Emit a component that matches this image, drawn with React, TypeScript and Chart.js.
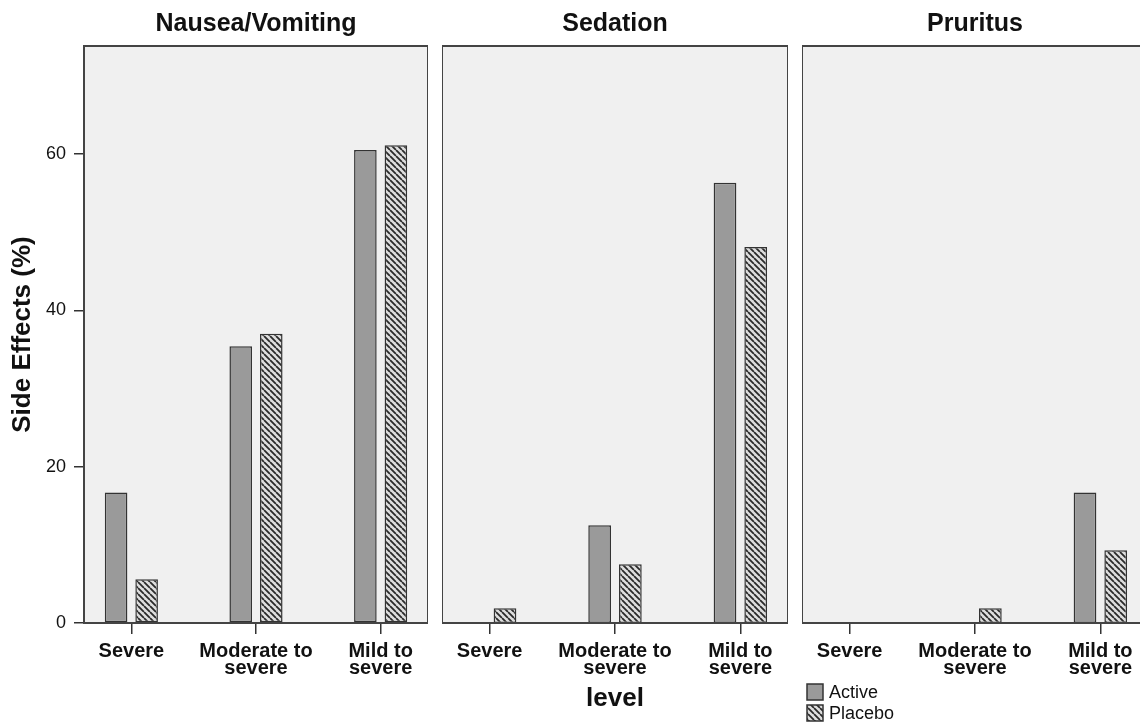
import React, { useEffect, useRef } from 'react';
import { Chart, registerables } from 'chart.js';

Chart.register(...registerables);

// ---------- data ----------
const PANEL_TITLES = ['Nausea/Vomiting', 'Sedation', 'Pruritus'];
const CATEGORY_LABELS: string[][] = [['Severe'], ['Moderate to', 'severe'], ['Mild to', 'severe']];
const SERIES_NAMES = ['Active', 'Placebo'];

const NAUSEA_ACTIVE = [16.7, 35.4, 60.5];
const NAUSEA_PLACEBO = [5.6, 37.0, 61.1];
const SEDATION_ACTIVE = [0, 12.5, 56.3];
const SEDATION_PLACEBO = [1.9, 7.5, 48.1];
const PRURITUS_ACTIVE = [0, 0, 16.7];
const PRURITUS_PLACEBO = [0, 1.9, 9.3];

const Y_TICKS = [0, 20, 40, 60];
const Y_MIN = 0;
const Y_MAX = 73.8;
const X_MIN = -0.38;
const X_MAX = 2.38;
const X_AXIS_TITLE = 'level';
const Y_AXIS_TITLE = 'Side Effects (%)';

// ---------- layout / style ----------
const W = 1140;
const H = 725;
const FONT = "'Liberation Sans', Arial, Helvetica, sans-serif";

const PANELS = [
  { title: PANEL_TITLES[0], active: NAUSEA_ACTIVE, placebo: NAUSEA_PLACEBO, left: 0, width: 428, yAxis: true, xTitle: false, legend: false },
  { title: PANEL_TITLES[1], active: SEDATION_ACTIVE, placebo: SEDATION_PLACEBO, left: 442, width: 346, yAxis: false, xTitle: true, legend: false },
  { title: PANEL_TITLES[2], active: PRURITUS_ACTIVE, placebo: PRURITUS_PLACEBO, left: 802, width: 346, yAxis: false, xTitle: false, legend: true },
];

function makeHatch(): CanvasPattern | string {
  const s = 6;
  const c = document.createElement('canvas');
  c.width = s;
  c.height = s;
  const g = c.getContext('2d');
  if (!g) return '#cccccc';
  g.fillStyle = '#dedede';
  g.fillRect(0, 0, s, s);
  g.strokeStyle = '#2a2a2a';
  g.lineWidth = 1.8;
  g.beginPath();
  for (const k of [-s, 0, s]) {
    g.moveTo(k, 0);
    g.lineTo(k + s, s);
  }
  g.stroke();
  return g.createPattern(c, 'repeat') || '#cccccc';
}

const panelPlugin = {
  id: 'panelBox',
  beforeDraw(chart: any) {
    const { ctx, chartArea } = chart;
    const { left, top, right, bottom } = chartArea;
    ctx.save();
    ctx.fillStyle = '#f0f0f0';
    ctx.fillRect(left, top, right - left, bottom - top);
    ctx.restore();
  },
  afterDatasetsDraw(chart: any) {
    const { ctx, chartArea } = chart;
    const { left, top, right, bottom } = chartArea;
    ctx.save();
    ctx.strokeStyle = '#444444';
    ctx.lineWidth = 2;
    ctx.strokeRect(left, top, right - left, bottom - top);
    ctx.restore();
  },
};

const sideLegendPlugin = {
  id: 'sideLegend',
  afterDraw(chart: any, _args: any, opts: any) {
    if (!opts || !opts.display) return;
    const { ctx } = chart;
    ctx.save();
    ctx.font = `18px ${FONT}`;
    ctx.textBaseline = 'middle';
    ctx.textAlign = 'left';
    chart.data.datasets.forEach((ds: any, i: number) => {
      const y = opts.y + i * opts.gap;
      ctx.fillStyle = ds.backgroundColor;
      ctx.fillRect(opts.x, y, opts.box, opts.box);
      ctx.strokeStyle = ds.borderColor;
      ctx.lineWidth = 1.5;
      ctx.strokeRect(opts.x, y, opts.box, opts.box);
      ctx.fillStyle = '#111111';
      ctx.fillText(ds.label, opts.x + opts.box + 6, y + opts.box / 2 + 1);
    });
    ctx.restore();
  },
};

type PanelCfg = (typeof PANELS)[number];

function Panel({ cfg }: { cfg: PanelCfg }) {
  const ref = useRef<HTMLCanvasElement>(null);
  useEffect(() => {
    if (!ref.current) return;
    const hatch = makeHatch();
    const chart = new Chart(ref.current, {
      type: 'bar',
      data: {
        datasets: [
          {
            label: SERIES_NAMES[0],
            data: cfg.active.map((y, i) => ({ x: i, y })),
            backgroundColor: '#9a9a9a',
            borderColor: '#333333',
            borderWidth: 1.5,
            borderSkipped: false,
            categoryPercentage: 0.49,
            barPercentage: 0.74,
          },
          {
            label: SERIES_NAMES[1],
            data: cfg.placebo.map((y, i) => ({ x: i, y })),
            backgroundColor: hatch as any,
            borderColor: '#333333',
            borderWidth: 1.5,
            borderSkipped: false,
            categoryPercentage: 0.49,
            barPercentage: 0.74,
          },
        ],
      },
      options: {
        responsive: false,
        animation: false,
        devicePixelRatio: 1,
        layout: { padding: 0 },
        plugins: {
          legend: { display: false },
          tooltip: { enabled: false },
          title: {
            display: true,
            text: cfg.title,
            fullSize: false,
            color: '#111111',
            font: { family: FONT, size: 25, weight: 'bold', lineHeight: 1.2 },
            padding: { top: 9, bottom: 7 },
          },
          sideLegend: { display: cfg.legend, x: 5, y: 684, box: 16, gap: 21 },
        } as any,
        scales: {
          x: {
            type: 'linear',
            min: X_MIN,
            max: X_MAX,
            offset: false,
            border: { display: false },
            grid: {
              display: true,
              offset: false,
              drawOnChartArea: false,
              drawTicks: true,
              tickLength: 11,
              color: '#333333',
              lineWidth: 1.5,
            },
            afterBuildTicks: (scale: any) => {
              scale.ticks = CATEGORY_LABELS.map((_, i) => ({ value: i }));
            },
            afterFit: (scale: any) => {
              scale.height = H - 623;
              scale.paddingLeft = 0;
              scale.paddingRight = 0;
            },
            ticks: {
              autoSkip: false,
              maxRotation: 0,
              minRotation: 0,
              padding: 9,
              color: '#111111',
              font: { family: FONT, size: 20, weight: 'bold', lineHeight: '17px' } as any,
              callback: (v: any) => CATEGORY_LABELS[Math.round(Number(v))] || '',
            },
            title: {
              display: cfg.xTitle,
              text: X_AXIS_TITLE,
              color: '#111111',
              font: { family: FONT, size: 26, weight: 'bold', lineHeight: 1.2 },
              padding: { top: 0, bottom: 11 },
            },
          },
          y: {
            display: cfg.yAxis,
            min: Y_MIN,
            max: Y_MAX,
            border: { display: false },
            grid: {
              display: true,
              offset: false,
              drawOnChartArea: false,
              drawTicks: true,
              tickLength: 10,
              color: '#333333',
              lineWidth: 1.5,
            },
            afterBuildTicks: (scale: any) => {
              scale.ticks = Y_TICKS.map((v) => ({ value: v }));
            },
            afterFit: (scale: any) => {
              if (cfg.yAxis) scale.width = 84;
              else scale.width = 0;
            },
            ticks: {
              padding: 8,
              color: '#111111',
              font: { family: FONT, size: 18 },
            },
            title: {
              display: true,
              text: Y_AXIS_TITLE,
              color: '#111111',
              font: { family: FONT, size: 26, weight: 'bold', lineHeight: 1.2 },
              padding: { top: 7, bottom: 0 },
            },
          },
        },
      } as any,
      plugins: [panelPlugin, sideLegendPlugin],
    });
    return () => chart.destroy();
  }, [cfg]);

  return (
    <canvas
      ref={ref}
      width={cfg.width}
      height={H}
      style={{ position: 'absolute', left: cfg.left, top: 0, width: cfg.width, height: H }}
    />
  );
}

export default function App() {
  return (
    <div
      style={{
        position: 'absolute',
        left: 0,
        top: 0,
        width: W,
        height: H,
        overflow: 'hidden',
        background: '#ffffff',
      }}
    >
      {PANELS.map((p) => (
        <Panel key={p.title} cfg={p} />
      ))}
    </div>
  );
}
